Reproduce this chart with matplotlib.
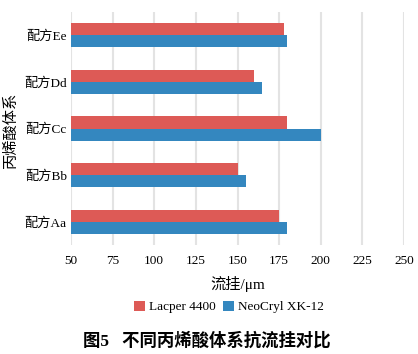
import matplotlib
matplotlib.use("Agg")
import matplotlib.pyplot as plt
import numpy as np

plt.rcParams['font.family'] = ['Liberation Serif', 'Noto Sans CJK SC', 'DejaVu Sans']

categories = ["配方Aa", "配方Bb", "配方Cc", "配方Dd", "配方Ee"]
lacper = [175, 150, 180, 160, 178]
neocryl = [180, 155, 200, 165, 180]
series_names = ["Lacper 4400", "NeoCryl XK-12"]
xticks = [50, 75, 100, 125, 150, 175, 200, 225, 250]

red = "#DD5A56"
blue = "#3487BF"

fig = plt.figure(figsize=(4.18, 3.54), dpi=100)
ax = fig.add_axes([71/418, 1 - 245/354, (404-71)/418, (245-12)/354])

y = np.arange(len(categories))
h = 0.26
ax.barh(y + h/2, np.array(lacper) - 50, left=50, height=h, color=red, label=series_names[0], zorder=3)
ax.barh(y - h/2, np.array(neocryl) - 50, left=50, height=h, color=blue, label=series_names[1], zorder=3)

ax.set_xlim(50, 250)
ax.set_ylim(-0.5, 4.5)
ax.set_xticks(xticks)
ax.set_xticklabels([str(t) for t in xticks], fontsize=9.5)
ax.set_yticks(y)
ax.set_yticklabels(categories, fontsize=9.5)
ax.tick_params(length=0)
ax.tick_params(axis='y', pad=3)
ax.tick_params(axis='x', pad=7)
ax.grid(axis='x', color='#E3E3E3', linewidth=1.5, zorder=0)
for s in ax.spines.values():
    s.set_visible(False)

ax.set_xlabel("流挂/μm", fontsize=11, labelpad=7)
fig.text(11/418, 1 - 130/354, "丙烯酸体系", rotation=90, fontsize=11, ha='center', va='center')

fig.legend(loc='center', bbox_to_anchor=(229/418, 1 - 307/354), ncol=2, frameon=False,
           fontsize=9.5, handlelength=0.8, handleheight=0.8, handletextpad=0.3, columnspacing=0.6)

fig.text(207/418, 1 - 341/354, "图5   不同丙烯酸体系抗流挂对比", fontsize=12.5, fontweight='bold',
         ha='center', va='center')

fig.savefig("out.png", dpi=100)
